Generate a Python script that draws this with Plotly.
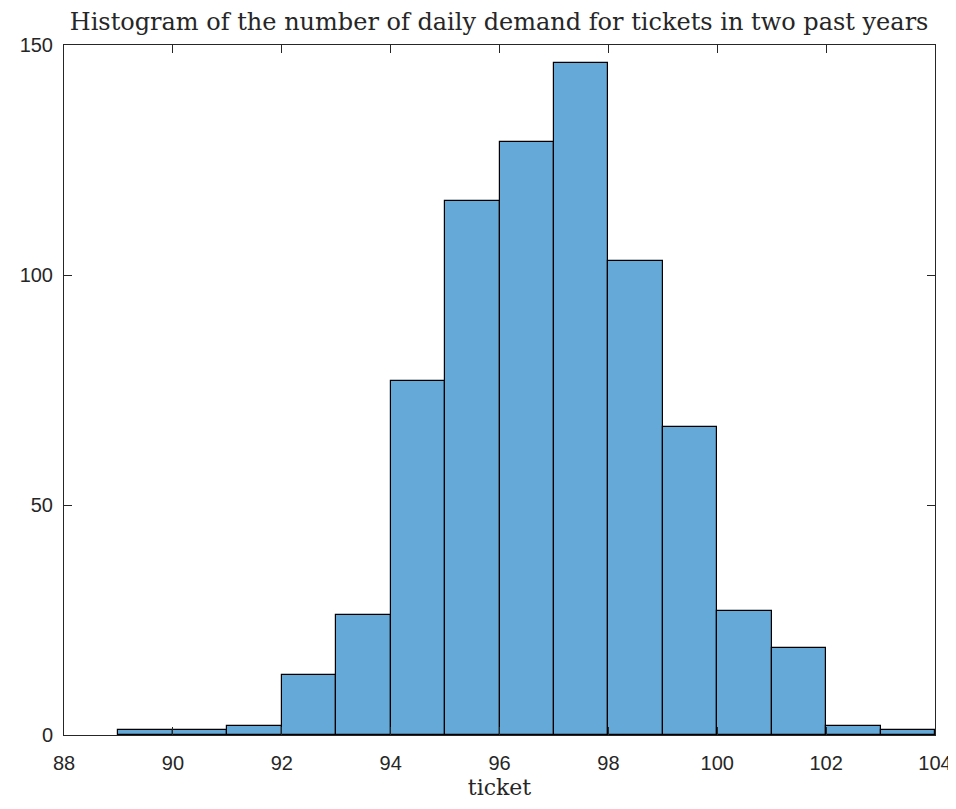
import plotly.graph_objects as go

bin_left = [89, 90, 91, 92, 93, 94, 95, 96, 97, 98, 99, 100, 101, 102, 103]
counts = [1, 1, 2, 13, 26, 77, 116, 129, 146, 103, 67, 27, 19, 2, 1]
x_ticks = [88, 90, 92, 94, 96, 98, 100, 102, 104]
y_ticks = [0, 50, 100, 150]

centers = [b + 0.5 for b in bin_left]

fig = go.Figure(go.Bar(
    x=centers, y=counts, width=1,
    marker=dict(color="rgb(100,169,215)", line=dict(color="black", width=1.2)),
))

axis_common = dict(
    showline=True, linecolor="#262626", linewidth=1, mirror="ticks",
    ticks="inside", ticklen=8, tickcolor="#262626", showgrid=False, zeroline=False,
    automargin=False,
    tickfont=dict(family="Liberation Sans, Arial", size=20, color="#262626"),
)

fig.update_layout(
    width=948, height=801,
    paper_bgcolor="white", plot_bgcolor="white",
    margin=dict(l=56, r=21, t=37, b=74),
    bargap=0,
    showlegend=False,
    title=dict(
        text="Histogram of the number of daily demand for tickets in two past years",
        font=dict(family="DejaVu Serif, Liberation Serif", size=24, color="#262626"),
        x=0.518, xanchor="center", y=0.993, yanchor="top",
    ),
    xaxis=dict(range=[88, 104], tickvals=x_ticks, ticktext=[str(v) for v in x_ticks],
               ticklabelstandoff=10,
               title=dict(text="ticket", standoff=6,
                          font=dict(family="DejaVu Serif, Liberation Serif", size=22, color="#262626")),
               **axis_common),
    yaxis=dict(range=[0, 150], tickvals=y_ticks, ticktext=[str(v) for v in y_ticks],
               ticklabelstandoff=6, **axis_common),
)

fig.write_html("out.html")
